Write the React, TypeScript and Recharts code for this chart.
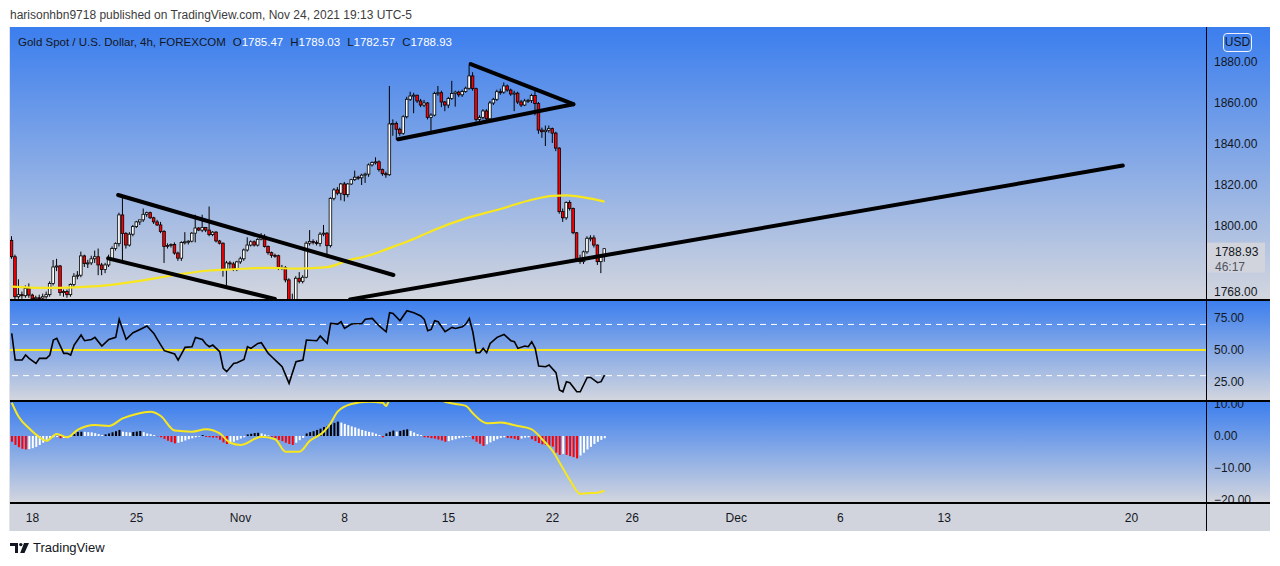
import { Bar, Cell, ComposedChart, Line, ReferenceLine, XAxis, YAxis } from 'recharts';

// 4h candles, [open, high, low, close], bar index = position in the array
const ohlc: [number, number, number, number][] = [
  [1793, 1795, 1784, 1785], [1785, 1786, 1764, 1765.5], [1765.5, 1774, 1764.5, 1766.5], [1766.5, 1768, 1764.5, 1766],
  [1766, 1771, 1765, 1769.5], [1769.5, 1772, 1765, 1766.3], [1766.3, 1767, 1763, 1764.5], [1764.5, 1766, 1763.5, 1765],
  [1765, 1766.5, 1763.5, 1764.8], [1764.8, 1767, 1764, 1765.5], [1765.5, 1768, 1764.5, 1766.5], [1766.5, 1773, 1765.5, 1772],
  [1772, 1783.4, 1771, 1780], [1780, 1784, 1778, 1780.5], [1780.5, 1781, 1766, 1767.5], [1767.5, 1769, 1765.5, 1768],
  [1768, 1769, 1765, 1766.5], [1766.5, 1772, 1765.5, 1771.5], [1771.5, 1777, 1770, 1775.5], [1775.5, 1778, 1774, 1776],
  [1776, 1787.5, 1775, 1785.4], [1785.4, 1786, 1780, 1781.7], [1781.7, 1783.5, 1779.5, 1782], [1782, 1785.5, 1781, 1784],
  [1784, 1788, 1782, 1785], [1785, 1789, 1776, 1781], [1781, 1782, 1776, 1778.8], [1778.8, 1782, 1777, 1781],
  [1781, 1786, 1780, 1784], [1784, 1790, 1783, 1789], [1789, 1792, 1788, 1791.4], [1791.4, 1806.5, 1790, 1805.4],
  [1805.4, 1814.3, 1783.4, 1796.4], [1796.4, 1797, 1789, 1790.7], [1790.7, 1797, 1790, 1796], [1796, 1800.5, 1795, 1799.7],
  [1799.7, 1802.5, 1799, 1802], [1802, 1803, 1800.5, 1803], [1803, 1808.5, 1802, 1805.7], [1805.7, 1807, 1804.5, 1806.5],
  [1806.5, 1807, 1803.5, 1804], [1804, 1804.5, 1801, 1802], [1802, 1803, 1800, 1800.5], [1800.5, 1802, 1796.5, 1797.3],
  [1797.3, 1798, 1782, 1790], [1790, 1791.5, 1789, 1790.5], [1790.5, 1791.5, 1789.5, 1791], [1791, 1792, 1786, 1786.8],
  [1786.8, 1787.5, 1783, 1784.3], [1784.3, 1792.5, 1783, 1792], [1792, 1797, 1791, 1792.3], [1792.3, 1793, 1791, 1792.6],
  [1792.6, 1797, 1792, 1796.5], [1796.5, 1805.5, 1792, 1799], [1799, 1799.5, 1797.5, 1798], [1798, 1805.5, 1797, 1799.3],
  [1799.3, 1799.5, 1797, 1798], [1798, 1809.5, 1795, 1795.8], [1795.8, 1797.5, 1795, 1797], [1797, 1797.5, 1792, 1792.7],
  [1792.7, 1793.2, 1791, 1791.6], [1791.6, 1792, 1775.3, 1778.9], [1778.9, 1783, 1771, 1782], [1782, 1783, 1779, 1781.5],
  [1781.5, 1782.5, 1778, 1779], [1779, 1783, 1778, 1782.5], [1782.5, 1785, 1781.5, 1784], [1784, 1789, 1783, 1788.3],
  [1788.3, 1794.5, 1787.5, 1790.7], [1790.7, 1793, 1790, 1792.3], [1792.3, 1793, 1790, 1790.7], [1790.7, 1794, 1790, 1793.5],
  [1793.5, 1796.5, 1793, 1795], [1795, 1796, 1789.5, 1790], [1790, 1790.5, 1786, 1787], [1787, 1787.5, 1784.5, 1785.7],
  [1785.7, 1786.5, 1784.5, 1785.5], [1785.5, 1786, 1778.5, 1779.5], [1779.5, 1781, 1778.5, 1779.8], [1779.8, 1780.5, 1772.5, 1773.7],
  [1773.7, 1774.5, 1760, 1764], [1764, 1767, 1761, 1763.5], [1763.5, 1775.5, 1763, 1774.5], [1774.5, 1777.5, 1772, 1773],
  [1773, 1776, 1772, 1775], [1775, 1792.5, 1774.5, 1791.6], [1791.6, 1798, 1790.5, 1792.5], [1792.5, 1793.5, 1791, 1792],
  [1792, 1793, 1790.5, 1791.5], [1791.5, 1797, 1790, 1796], [1796, 1800.5, 1795, 1796.5], [1796.5, 1797, 1784.4, 1790.4],
  [1790.4, 1814, 1789.5, 1813.5], [1813.5, 1818.5, 1812.5, 1817.6], [1817.6, 1819, 1815, 1816], [1816, 1821, 1812.5, 1820.5],
  [1820.5, 1821.5, 1812, 1815.3], [1815.3, 1821, 1814, 1820.5], [1820.5, 1823, 1820, 1822.6], [1822.6, 1827, 1822, 1823.8],
  [1823.8, 1824.5, 1822.5, 1823.5], [1823.5, 1825.5, 1820, 1824.8], [1824.8, 1826, 1821, 1825.3], [1825.3, 1830.5, 1824, 1829.8],
  [1829.8, 1831.5, 1829, 1831], [1831, 1833.5, 1830, 1831.3], [1831.3, 1832, 1826.5, 1827.5], [1827.5, 1828, 1824.5, 1825.5],
  [1825.5, 1826.5, 1823.5, 1825], [1825, 1868.3, 1824.5, 1849.8], [1849.8, 1852, 1844, 1850], [1850, 1851, 1842, 1847.2],
  [1847.2, 1848, 1844, 1845.2], [1845.2, 1854, 1844.5, 1853.3], [1853.3, 1863, 1852.5, 1861.8], [1861.8, 1865.5, 1861, 1863.4],
  [1863.4, 1865, 1855, 1863.8], [1863.8, 1864, 1860, 1861], [1861, 1862, 1858, 1859], [1859, 1861.5, 1858, 1860],
  [1860, 1860.5, 1852, 1853], [1853, 1855, 1846, 1854.1], [1854.1, 1865.5, 1853.5, 1864.7], [1864.7, 1868.3, 1863.5, 1865],
  [1865, 1866, 1858, 1860.5], [1860.5, 1861, 1856, 1859], [1859, 1863, 1857.5, 1862.2], [1862.2, 1870.8, 1861.5, 1864.6],
  [1864.6, 1866, 1858.2, 1865.3], [1865.3, 1866, 1863, 1864], [1864, 1866.5, 1863, 1865.6], [1865.6, 1868, 1865, 1867.2],
  [1867.2, 1878.5, 1866.5, 1873.2], [1873.2, 1875, 1866, 1867], [1867, 1867.5, 1851, 1852], [1852, 1854, 1850, 1853],
  [1853, 1857, 1852, 1856.1], [1856.1, 1857, 1851.5, 1852.3], [1852.3, 1861, 1851.5, 1860], [1860, 1862.5, 1859, 1861.8],
  [1861.8, 1866.5, 1861, 1865.5], [1865.5, 1867, 1864, 1865.3], [1865.3, 1870, 1864.5, 1868.3], [1868.3, 1869, 1865.5, 1866.3],
  [1866.3, 1867, 1863.5, 1864.4], [1864.4, 1866, 1856, 1864.8], [1864.8, 1865.5, 1859.5, 1860.5], [1860.5, 1861.5, 1858, 1859],
  [1859, 1862, 1858.5, 1861], [1861, 1862, 1860, 1861.2], [1861.2, 1864.5, 1860, 1863.7], [1863.7, 1866, 1854, 1859.7],
  [1859.7, 1860.5, 1845, 1846.8], [1846.8, 1848, 1843, 1846], [1846, 1849, 1839, 1846.7], [1846.7, 1849, 1845.5, 1847.5],
  [1847.5, 1848, 1840.5, 1845.3], [1845.3, 1846, 1836.5, 1838], [1838, 1838.5, 1806, 1807], [1807, 1808.5, 1802, 1804],
  [1804, 1812, 1803, 1811.5], [1811.5, 1812.5, 1807.5, 1808.5], [1808.5, 1809, 1796, 1796.7], [1796.7, 1797, 1783, 1784.2],
  [1784.2, 1786, 1781.5, 1782.6], [1782.6, 1788, 1781.5, 1787.4], [1787.4, 1795, 1786.5, 1794], [1794, 1795.5, 1792.5, 1794.2],
  [1794.2, 1795.5, 1789.5, 1790.7], [1790.7, 1791, 1781, 1782.6], [1782.6, 1785, 1777, 1785.47], [1785.47, 1789.03, 1782.57, 1788.93],
];

// yellow moving average, [bar index, price]
const maPoints: [number, number][] = [
  [0, 1770.4], [9, 1769.8], [18, 1770.1], [28, 1771.2], [37, 1773.2], [47, 1776.1], [57, 1778.3], [64, 1778.9],
  [74, 1779.6], [83, 1779.2], [91, 1779.9], [97, 1783.2], [103, 1785.6], [108, 1788.6], [115, 1793], [122, 1798.2],
  [131, 1803.7], [141, 1808.3], [150, 1812.8], [156, 1814.7], [160, 1814.9], [165, 1814], [171, 1811.9],
];

// drawn trend lines, [[bar, price], [bar, price]]
const trendLines: [number, number][][] = [
  [[30.7, 1815.1], [110.1, 1776.1]],
  [[27.8, 1784.2], [75.9, 1764.4]],
  [[97.6, 1764.2], [320.5, 1829.5]],
  [[132.4, 1879], [162, 1859.4]],
  [[111.5, 1842.3], [162, 1859.4]],
];

const rsiPoints: [number, number][] = [
  [0, 63], [1, 42.2], [3, 42.2], [4, 46.1], [5, 43.5], [7, 39.6], [8, 43.5], [10, 43.5], [11, 46.1], [12, 57.8],
  [13, 59.1], [15, 47.4], [16, 47.4], [17, 46.1], [18, 53.9], [20, 61.7], [21, 57.3], [23, 58.3], [24, 59.9], [26, 53.1],
  [28, 58.3], [30, 59.9], [31, 74], [33, 58.3], [35, 63.5], [37, 66.1], [39, 68.8], [41, 63], [42, 58.3], [44, 49.5],
  [45, 48.7], [47, 46.9], [48, 42.2], [50, 52.1], [52, 52.6], [53, 59.9], [55, 58.3], [56, 54.7], [57, 52.6], [58, 53.9],
  [60, 48.7], [61, 35.7], [62, 33.1], [64, 39.6], [65, 40.1], [67, 42.7], [68, 52.6], [69, 51.3], [71, 55.2], [72, 55.7],
  [74, 47.4], [75, 44.8], [77, 39.6], [78, 37], [80, 24], [82, 40.9], [84, 42.2], [85, 57.8], [88, 57.3], [89, 60.9],
  [91, 55.2], [92, 70.8], [94, 70.3], [95, 72.1], [96, 66.9], [98, 70.3], [101, 70.8], [102, 74], [104, 74.7], [106, 68.8],
  [108, 64.3], [109, 79.2], [110, 78.6], [112, 72.9], [114, 80.7], [116, 79.2], [118, 76.6], [119, 74], [120, 65.1], [121, 66.1],
  [122, 72.9], [123, 72.1], [125, 64.3], [127, 67.7], [128, 66.9], [130, 68.2], [131, 70.3], [132, 74.7], [133, 64.3], [134, 47.9],
  [135, 47.9], [136, 51.3], [137, 47.9], [138, 55.2], [140, 59.9], [142, 62.2], [144, 57.3], [145, 56.5], [146, 51.3], [148, 53.1],
  [149, 52.6], [150, 56.5], [151, 51.3], [152, 37.5], [154, 37], [155, 38.3], [157, 32.3], [158, 18.75], [159, 17.4], [160, 25.3],
  [161, 24.5], [163, 17.4], [164, 17.4], [166, 28.6], [167, 28.6], [169, 24.5], [170, 25.3], [171, 30.5],
];

// MACD histogram, one value per bar
const macdHist: number[] = [
  -1.8, -2.8, -3.5, -4.0, -4.2, -4.1, -3.8, -3.4, -2.8, -2.1,
  -1.2, -0.7, -0.4, -0.3, -0.7, -0.6, -0.5, -0.2, 0.6, 1.25,
  1.35, 1.3, 1.2, 1.15, 0.9, 0.6, 0.3, 0.5, 0.8, 1.15,
  1.5, 1.9, 1.35, 1.2, 1.1, 1.25, 1.4, 1.56, 1.2, 0.8,
  0.6, 0.3, -0.1, -0.4, -0.9, -1.5, -1.9, -2.3, -2.1, -1.8,
  -1.4, -1.0, -0.7, -0.4, -0.2, 0.3, -0.3, -0.4, -0.5, -0.5,
  -1.2, -2.0, -2.5, -2.2, -1.8, -1.3, -0.8, -0.4, 0.5, 0.7,
  0.9, 1.0, 0.8, 0.5, 0.2, -0.2, -0.7, -1.2, -1.6, -2.1,
  -2.5, -2.8, -2.1, -1.3, -0.6, 0.8, 1.2, 1.5, 1.9, 2.3,
  2.8, 3.1, 3.6, 4.1, 4.5, 4.2, 3.8, 3.4, 3.0, 2.7,
  2.3, 1.9, 1.6, 1.3, 1.1, 0.7, 0.3, -0.4, 0.8, 1.3,
  1.7, 1.35, 1.6, 1.9, 2.1, 1.6, 1.1, 0.6, 0.3, -0.4,
  -0.5, -0.7, -0.8, -1.1, -1.4, -1.8, -1.6, -1.3, -1.0, -0.7,
  -0.5, -0.3, -0.2, -1.0, -1.8, -2.4, -3.1, -2.6, -2.0, -1.5,
  -1.0, -0.6, -0.4, -0.6, -0.7, -0.9, -1.25, -0.8, -0.5, -0.4,
  -1.0, -1.6, -2.2, -2.6, -2.8, -3.1, -3.3, -5.2, -5.9, -5.6,
  -5.9, -6.3, -6.6, -7.0, -6.1, -5.2, -4.2, -3.4, -2.5, -1.8,
  -1.2, -0.7,
];

// yellow MACD line, [bar index, value]
const signalPoints: [number, number][] = [
  [0, 10.4], [2, 6.0], [5, 2.4], [8, -0.4], [10, -1.5], [13, 0.6], [16, -0.4], [19, 1.9], [24, 3.4], [28, 3.1],
  [32, 5.5], [36, 6.9], [40, 7.6], [43, 6.25], [47, 1.7], [52, 1.35], [56, 2.1], [60, 0.8], [63, -2.1], [66, -2.8],
  [72, -0.2], [76, -1.0], [79, -4.9], [83, -4.9], [86, -1.5], [90, 1.35], [92, 4.0], [94, 7.6], [98, 10.0], [103, 10.7],
  [107, 10.4], [108, 9.4], [109, 11.3], [113, 12.6], [118, 13], [122, 12], [125, 10.7], [128, 10.0], [131, 9.4], [133, 7.1],
  [137, 4.0], [141, 4.2], [146, 3.1], [150, 2.1], [153, -1.0], [156, -4.6], [159, -10.1], [161, -13.75], [164, -18.1], [166, -17.9],
  [169, -17.7], [171, -17.1],
];

const dateTicks = [6, 36, 66, 96, 126, 156, 179, 209, 239, 269, 323];
const dateLabels = ['18', '25', 'Nov', '8', '15', '22', '26', 'Dec', '6', '13', '20'];
const priceTicks = [1768, 1800, 1820, 1840, 1860, 1880];
const rsiTicks = [25, 50, 75];
const macdTicks = [-20, -10, 0, 10];

const lastPrice = 1788.93;
const countdown = '46:17';
const legendValues: [string, string][] = [['O', '1785.47'], ['H', '1789.03'], ['L', '1782.57'], ['C', '1788.93']];

const FONT = "'Liberation Sans', Arial, sans-serif";
const YELLOW = '#f8e71c';
const TEXT = '#131722';
const PANE_BG = 'linear-gradient(to bottom, #3b7eee, #d3d6de)';
const X_DOMAIN: [number, number] = [-0.5, 344.5];
const CHART_W = 1260;
const AXIS_W = 64;

const maByBar = new Map(maPoints);
const priceRows = ohlc.map(([o, h, l, c], i) => ({ i, o, h, l, c, range: [l, h], ma: maByBar.get(i) ?? null }));
const rsiRows = rsiPoints.map(([i, v]) => ({ i, v }));
const sigByBar = new Map(signalPoints);
const macdRows = macdHist.map((v, i) => {
  const prev = i > 0 ? macdHist[i - 1] : v;
  const color = v >= 0 ? (v >= prev ? '#000000' : '#ffffff') : (v <= prev ? '#ff0000' : '#ffffff');
  return { i, v, sig: sigByBar.get(i) ?? null, color };
});

const tickStyle = { fill: TEXT, fontSize: 12, fontFamily: FONT };

function Candle(props: any) {
  const { x, y, width, height, payload } = props;
  if (!payload || x == null || y == null) return null;
  const { o, h, l, c } = payload;
  const top = Math.min(y, y + height);
  const span = Math.abs(height);
  const k = h > l ? span / (h - l) : 0;
  const cx = x + width / 2;
  const yo = top + (h - o) * k;
  const yc = top + (h - c) * k;
  const bodyTop = Math.min(yo, yc);
  const bodyH = Math.max(Math.abs(yo - yc), 1);
  return (
    <g>
      <line x1={cx} x2={cx} y1={top} y2={top + span} stroke="#000" strokeWidth={1} />
      <rect x={cx - 1.3} y={bodyTop} width={2.6} height={bodyH} fill={c >= o ? '#ffffff' : '#ff0000'} stroke="#000" strokeWidth={0.8} />
    </g>
  );
}

function LastPriceLabel(props: any) {
  const { viewBox } = props;
  if (!viewBox) return null;
  const x = viewBox.x + viewBox.width;
  const y = viewBox.y;
  return (
    <g>
      <rect x={x} y={y - 6} width={59} height={30} fill="#d1d4dc" />
      <text x={x + 9} y={y + 3} dy="0.355em" fontSize={12} fontFamily={FONT} fill={TEXT}>{lastPrice.toFixed(2)}</text>
      <text x={x + 9} y={y + 18} dy="0.355em" fontSize={12} fontFamily={FONT} fill="#50535e">{countdown}</text>
    </g>
  );
}

const fmtMacd = (v: number) => (v < 0 ? '\u2212' + Math.abs(v).toFixed(2) : v.toFixed(2));

function Pane({ top, height, children }: { top: number; height: number; children: any }) {
  return (
    <div style={{ position: 'absolute', left: 10, top, width: CHART_W, height, background: PANE_BG }}>
      {children}
    </div>
  );
}

function Rule({ left, top, width, height }: { left: number; top: number; width: number; height: number }) {
  return <div style={{ position: 'absolute', left, top, width, height, background: '#000' }} />;
}

function TvLogo() {
  return (
    <svg width={20} height={12} viewBox="0 0 20 12" style={{ position: 'absolute', left: 10, top: 542 }}>
      <path d="M0 1h8v10H5V4H0z" fill="#131722" />
      <circle cx={10.8} cy={2.6} r={1.7} fill="#131722" />
      <path d="M14 1h5l-4.5 10h-4.3z" fill="#131722" />
    </svg>
  );
}

export default function App() {
  return (
    <div style={{ position: 'absolute', left: 0, top: 0, width: 1280, height: 566, background: '#fff', fontFamily: FONT, overflow: 'hidden' }}>
      <div style={{ position: 'absolute', left: 10, top: 7, fontSize: 12, lineHeight: '16px', color: '#3c3c3c', whiteSpace: 'nowrap' }}>
        harisonhbn9718 published on TradingView.com, Nov 24, 2021 19:13 UTC-5
      </div>

      <div style={{ position: 'absolute', left: 9, top: 27, width: 1, height: 504, background: '#e0e3eb' }} />

      <Pane top={27} height={273}>
        <ComposedChart width={CHART_W} height={273} data={priceRows} margin={{ top: 0, right: 0, bottom: 0, left: 0 }}>
          <XAxis type="number" dataKey="i" domain={X_DOMAIN} hide allowDataOverflow />
          <YAxis
            orientation="right"
            width={AXIS_W}
            domain={[1763.9, 1897.07]}
            allowDataOverflow
            ticks={priceTicks}
            interval={0}
            tickFormatter={(v: number) => v.toFixed(2)}
            axisLine={false}
            tickLine={false}
            tick={tickStyle}
          />
          <Line dataKey="ma" type="monotone" stroke={YELLOW} strokeWidth={2.2} dot={false} connectNulls isAnimationActive={false} />
          <Bar dataKey="range" barSize={3} shape={Candle} isAnimationActive={false} />
          {trendLines.map((seg, k) => (
            <ReferenceLine
              key={k}
              segment={[{ x: seg[0][0], y: seg[0][1] }, { x: seg[1][0], y: seg[1][1] }]}
              stroke="#000"
              strokeWidth={4}
              strokeLinecap="round"
              ifOverflow="visible"
            />
          ))}
          <ReferenceLine y={lastPrice} stroke="none" label={<LastPriceLabel />} />
        </ComposedChart>
      </Pane>

      <div style={{ position: 'absolute', left: 18, top: 34, fontSize: 11.5, lineHeight: '16px', whiteSpace: 'nowrap' }}>
        <span style={{ color: TEXT }}>Gold Spot / U.S. Dollar, 4h, FOREXCOM</span>
        {legendValues.map(([k, v]) => (
          <span key={k}>
            <span style={{ color: TEXT, marginLeft: 7 }}>{k}</span>
            <span style={{ color: '#ffffff' }}>{v}</span>
          </span>
        ))}
      </div>

      <div
        style={{
          position: 'absolute', left: 1223, top: 33, width: 27, height: 17, border: '1px solid #f0f3fa', borderRadius: 4,
          fontSize: 12, lineHeight: '17px', textAlign: 'center', color: TEXT,
        }}
      >
        USD
      </div>

      <Pane top={300} height={101}>
        <ComposedChart width={CHART_W} height={101} data={rsiRows} margin={{ top: 0, right: 0, bottom: 0, left: 0 }}>
          <XAxis type="number" dataKey="i" domain={X_DOMAIN} hide allowDataOverflow />
          <YAxis
            orientation="right"
            width={AXIS_W}
            domain={[10.2, 89.1]}
            allowDataOverflow
            ticks={rsiTicks}
            interval={0}
            tickFormatter={(v: number) => v.toFixed(2)}
            axisLine={false}
            tickLine={false}
            tick={tickStyle}
          />
          <ReferenceLine y={70} stroke="#ffffff" strokeDasharray="6 5" />
          <ReferenceLine y={30} stroke="#ffffff" strokeDasharray="6 5" />
          <ReferenceLine y={50} stroke={YELLOW} strokeWidth={2} />
          <Line dataKey="v" type="linear" stroke="#000" strokeWidth={1.6} dot={false} isAnimationActive={false} />
        </ComposedChart>
      </Pane>

      <Pane top={401} height={102}>
        <ComposedChart width={CHART_W} height={102} data={macdRows} margin={{ top: 0, right: 0, bottom: 0, left: 0 }}>
          <XAxis type="number" dataKey="i" domain={X_DOMAIN} hide allowDataOverflow />
          <YAxis
            orientation="right"
            width={AXIS_W}
            domain={[-20.94, 10.94]}
            allowDataOverflow
            ticks={macdTicks}
            interval={0}
            tickFormatter={fmtMacd}
            axisLine={false}
            tickLine={false}
            tick={tickStyle}
          />
          <Bar dataKey="v" barSize={2} isAnimationActive={false}>
            {macdRows.map((r) => (
              <Cell key={r.i} fill={r.color} />
            ))}
          </Bar>
          <Line dataKey="sig" type="monotone" stroke={YELLOW} strokeWidth={2} dot={false} connectNulls isAnimationActive={false} />
        </ComposedChart>
      </Pane>

      <div style={{ position: 'absolute', left: 10, top: 503, width: CHART_W, height: 28, background: '#d1d4dc' }} />
      <div style={{ position: 'absolute', left: 10, top: 491 }}>
        <ComposedChart width={CHART_W} height={40} data={macdRows} margin={{ top: 0, right: AXIS_W, bottom: 0, left: 0 }}>
          <XAxis
            type="number"
            dataKey="i"
            domain={X_DOMAIN}
            allowDataOverflow
            ticks={dateTicks}
            interval={0}
            tickFormatter={(v: number) => dateLabels[dateTicks.indexOf(v)] ?? ''}
            axisLine={false}
            tickLine={false}
            tickMargin={4}
            height={28}
            tick={tickStyle}
          />
          <YAxis hide domain={[100, 200]} />
          <Line dataKey="v" stroke="none" dot={false} isAnimationActive={false} />
        </ComposedChart>
      </div>

      <Rule left={10} top={299} width={CHART_W} height={2} />
      <Rule left={10} top={400} width={CHART_W} height={2} />
      <Rule left={10} top={502} width={CHART_W} height={2} />
      <Rule left={1206} top={27} width={1} height={504} />

      <TvLogo />
      <div style={{ position: 'absolute', left: 33, top: 540, fontSize: 13, lineHeight: '16px', color: TEXT }}>TradingView</div>
    </div>
  );
}
